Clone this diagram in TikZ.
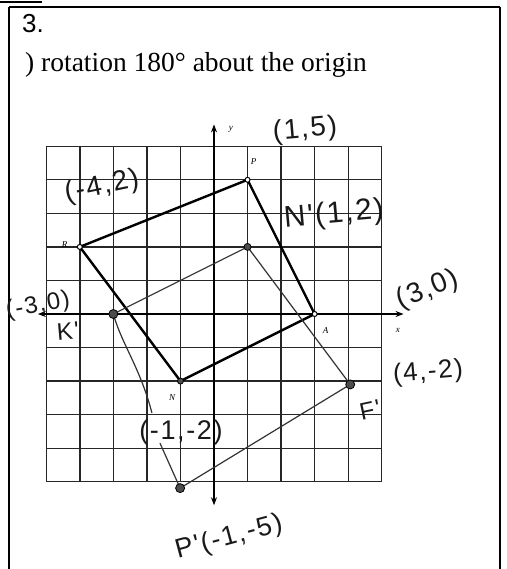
\documentclass[tikz,border=0pt]{standalone}
\usepackage{fontspec}
\setmainfont{Liberation Serif}
\newfontfamily\headfont{Liberation Sans}
\newfontfamily\handfont[LetterSpace=6]{Liberation Sans}
\usetikzlibrary{arrows.meta}
\begin{document}
\begin{tikzpicture}[x=1pt,y=-1pt,
  frameline/.style={line width=1.8pt, black},
  gridline/.style={line width=1.4pt, black!85},
  axisline/.style={line width=1.2pt, black, {Stealth[length=8pt,width=6pt]}-{Stealth[length=8pt,width=6pt]}},
  thickedge/.style={line width=2.4pt, black, line join=round},
  thinedge/.style={line width=1.2pt, black!80, line join=round},
  dotpt/.style={circle, fill=black!70, draw=black, line width=0.8pt, inner sep=0pt, minimum size=9pt},
  vtx/.style={circle, draw=black, line width=1pt, inner sep=0pt, minimum size=5pt, fill=white},
  hand/.style={font=\handfont\fontsize{#1}{#1}\selectfont, inner sep=0pt, text=black!90},
  hand/.default=28,
  tiny/.style={font=\itshape\fontsize{9}{9}\selectfont, inner sep=0pt}]
\useasboundingbox[fill=white] (0,0) rectangle (506,569);
% frame
\draw[frameline] (9,569) -- (9,7);
\draw[line width=1.2pt] (9,7) -- (500,7);
\draw[frameline] (500,7) -- (500,569);
\draw[line width=1.6pt] (0,2) -- (42,2);
% header
\node[font=\headfont\fontsize{26}{26}\selectfont, anchor=west, inner sep=0pt] (num) at (22,24) {3.};
\node[font=\fontsize{27.5}{27.5}\selectfont, anchor=west, inner sep=0pt] (title) at (25,65) {) rotation 180\textdegree\ about the origin};
% grid
\begin{scope}[shift={(214,314)}, x=33.55pt, y=33.55pt]
  \foreach \i in {-5,...,5} {
    \draw[gridline] (\i,-5) -- (\i,5);
    \draw[gridline] (-5,\i) -- (5,\i);
  }
  \coordinate (xl) at (-5.25,0);
  \coordinate (xr) at (5.65,0);
  \coordinate (yb) at (0,-5.7);
  \coordinate (yt) at (0,5.65);
  \draw[axisline] (xl) -- (xr);
  \draw[axisline] (yb) -- (yt);
  \node[tiny] (xlab) at (5.48,-0.5) {x};
  \node[tiny] (ylab) at (0.5,5.5) {y};
  % original figure
  \coordinate (P) at (1,4);
  \coordinate (R) at (-4,2);
  \coordinate (N) at (-1,-2);
  \coordinate (A) at (3,0);
  % image
  \coordinate (Pp) at (-1.01,-5.19);
  \coordinate (Rp) at (4.06,-2.1);
  \coordinate (Np) at (1,2);
  \coordinate (Ap) at (-3,0);
  \coordinate (b1) at (-1.85,-2.95);
  \coordinate (b2) at (-1.61,-3.85);
  \draw[thickedge] (P) -- (R) -- (N) -- (A) -- cycle;
  \draw[thinedge] (Ap) -- (Np) -- (Rp) -- (Pp);
  \draw[thinedge] (Ap) .. controls (-2.75,-0.9) and (-2.2,-1.6) .. (b1);
  \draw[thinedge] (b2) -- (Pp);
  \node[vtx] (vP) at (P) {};
  \node[vtx] (vR) at (R) {};
  \node[vtx] (vA) at (A) {};
  \node[dotpt, minimum size=6pt] (vN) at (N) {};
  \node[dotpt] (vPp) at (Pp) {};
  \node[dotpt] (vRp) at (Rp) {};
  \node[dotpt, minimum size=7pt] (vNp) at (Np) {};
  \node[dotpt] (vAp) at (Ap) {};
  \node[tiny] (lP) at (1.18,4.55) {P};
  \node[tiny] (lR) at (-4.45,2.08) {R};
  \node[tiny] (lA) at (3.33,-0.48) {A};
  \node[tiny] (lN) at (-1.25,-2.5) {N};
\end{scope}
% handwritten labels
\node[hand=28, rotate=5] (h1) at (305,130) {(1,5)};
\node[hand=28, rotate=12] (h2) at (102,187) {(-4,2)};
\node[hand=30, rotate=5] (h3) at (334,215) {N'(1,2)};
\node[hand=28, rotate=22] (h4) at (428,290) {(3,0)};
\node[hand=24, rotate=10] (h5) at (38,306) {(-3,0)};
\node[hand=24, rotate=5] (h6) at (68,331) {K'};
\node[hand=26, rotate=5] (h7) at (428,373) {(4,-2)};
\node[hand=24, rotate=12] (h8) at (370,410) {F'};
\node[hand=27] (h9) at (181,433) {(-1,-2)};
\node[hand=27, rotate=15] (h10) at (229,538) {P'(-1,-5)};
\end{tikzpicture}
\end{document}
